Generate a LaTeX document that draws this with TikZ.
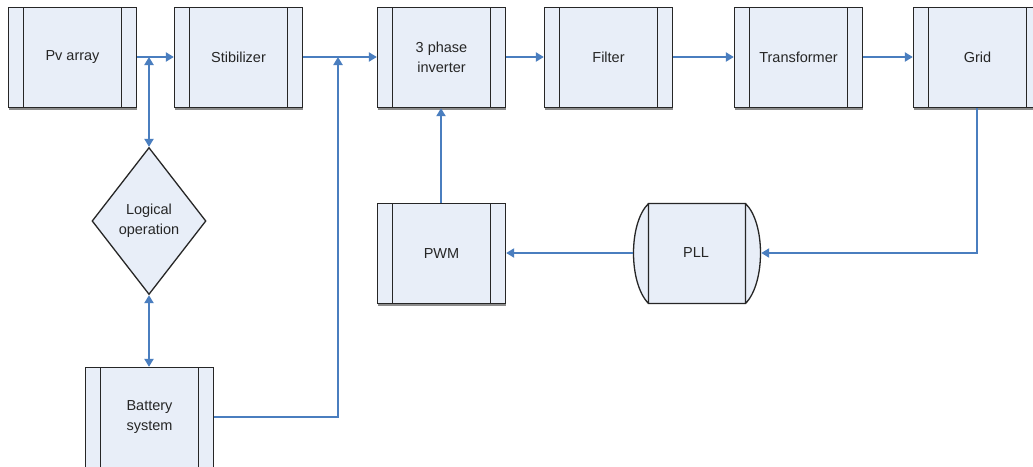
\documentclass[tikz,border=0pt]{standalone}
\usepackage{fontspec}
\setmainfont{Liberation Sans}
\usetikzlibrary{shapes.geometric,arrows.meta,shadows}

\definecolor{boxfill}{HTML}{E8EEF8}
\definecolor{wire}{HTML}{4A7EBF}

\tikzset{
  base/.style={draw=black!85, line width=1.3pt, fill=boxfill,
    font=\fontsize{14.5}{20}\selectfont, align=center, inner sep=0pt,
    text=black!85},
  shade/.style={drop shadow={shadow xshift=0.5pt, shadow yshift=-2pt,
    fill=black!45, opacity=1}},
  blockbox/.style={base, shade, rectangle, minimum width=128pt, minimum height=100pt,
    path picture={
      \draw[line width=1.3pt, draw=black!85]
        ([xshift=15pt]path picture bounding box.north west) --
        ([xshift=15pt]path picture bounding box.south west)
        ([xshift=-15pt]path picture bounding box.north east) --
        ([xshift=-15pt]path picture bounding box.south east);}},
  decision/.style={base, diamond, minimum width=114pt, minimum height=147pt},
  link/.style={draw=wire, line width=2pt, -{Triangle[length=8pt,width=9pt]}},
  twoway/.style={draw=wire, line width=2pt,
    {Triangle[length=8pt,width=9pt]}-{Triangle[length=8pt,width=9pt]}},
}

\begin{document}
\begin{tikzpicture}[x=1pt, y=-1pt]
  \clip (0,0) rectangle (1033,466);
  \fill[white] (0,0) rectangle (1033,466);

  % top row of the signal chain
  \node[blockbox] (pv)    at (72.5,57.5)  {Pv array};
  \node[blockbox] (stab)  at (238.5,57.5) {Stibilizer};
  \node[blockbox] (inv)   at (441.5,57.5) {3 phase\\inverter};
  \node[blockbox] (filt)  at (608.5,57.5) {Filter};
  \node[blockbox] (trafo) at (798.5,57.5) {Transformer};
  \node[blockbox] (grid)  at (977.5,57.5) {Grid};

  % control loop
  \node[blockbox] (pwm) at (441.5,253.5) {PWM};

  % phase-locked loop block: rectangle with rounded end caps
  \node[minimum width=128pt, minimum height=100pt, inner sep=0pt] (pll) at (697,253) {};
  \fill[boxfill] (648.5,203.5) .. controls (628.5,223) and (628.5,283) .. (648.5,303.5)
                 -- (745.5,303.5) .. controls (765.5,283) and (765.5,223) .. (745.5,203.5) -- cycle;
  \draw[line width=1.3pt, draw=black!85]
    (648.5,203.5) .. controls (628.5,223) and (628.5,283) .. (648.5,303.5)
    (745.5,203.5) .. controls (765.5,223) and (765.5,283) .. (745.5,303.5)
    (648.5,203.5) rectangle (745.5,303.5);
  \node[font=\fontsize{14.5}{20}\selectfont, text=black!85] (plltext) at (696,253) {PLL};

  % storage branch
  \node[decision] (logic) at (149,221) {Logical\\operation};
  \node[blockbox] (bat) at (149.5,417.5) {Battery\\system};

  % junctions on the main bus
  \coordinate (j1) at (149,57);
  \coordinate (j2) at (338,57);

  % main power path
  \draw[link] (pv.east |- j1) -- (stab.west |- j1);
  \draw[link] (stab.east |- j1) -- (inv.west |- j1);
  \draw[link] (inv.east |- j1) -- (filt.west |- j1);
  \draw[link] (filt.east |- j1) -- (trafo.west |- j1);
  \draw[link] (trafo.east |- j1) -- (grid.west |- j1);

  % battery management
  \draw[twoway] (j1) -- (logic.north);
  \draw[twoway] (logic.south) -- (bat.north -| j1);
  \draw[link] ([yshift=0.5pt]bat.east) -| (j2);

  % feedback from the grid
  \draw[link] ([xshift=-0.5pt]grid.south) |- (pll.east);
  \draw[link] (pll.west) -- (pwm.east |- pll.west);
  \draw[link] ([xshift=-0.5pt]pwm.north) -- ([xshift=-0.5pt]inv.south);
\end{tikzpicture}
\end{document}
